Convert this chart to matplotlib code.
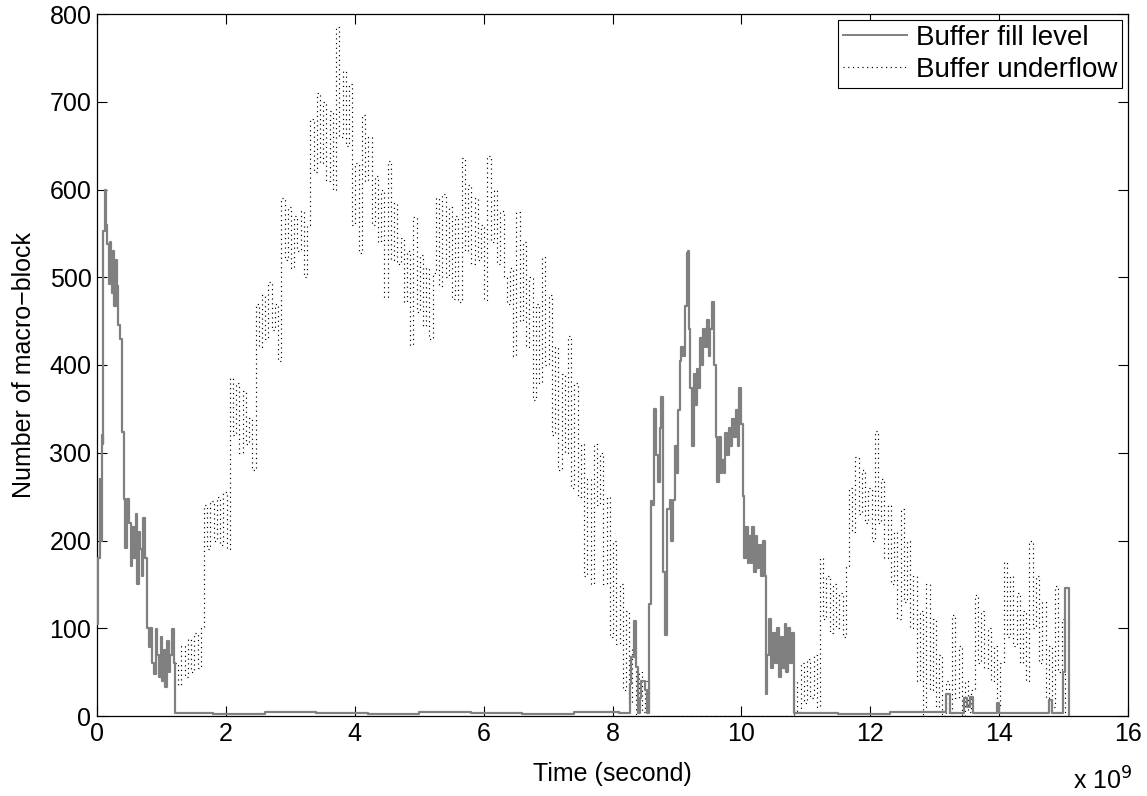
import matplotlib
matplotlib.use("Agg")
import matplotlib.pyplot as plt
from matplotlib.lines import Line2D

plt.rcParams['font.family'] = ['Liberation Sans', 'DejaVu Sans']

# ---- data (time in units of 1e9 s, values in macro-blocks) ----
fill_t = [0.00, 0.02, 0.04, 0.05, 0.07, 0.09, 0.10, 0.12, 0.14, 0.16, 0.18, 0.20, 0.21, 0.23, 0.25,
          0.27, 0.29, 0.31, 0.33, 0.36, 0.39, 0.42, 0.44, 0.47, 0.49, 0.52, 0.54, 0.57, 0.60, 0.62,
          0.65, 0.67, 0.70, 0.72, 0.75, 0.78, 0.81, 0.83, 0.86, 0.88, 0.91, 0.93, 0.96, 0.99, 1.01,
          1.04, 1.06, 1.09, 1.12, 1.14, 1.17, 1.19, 1.21,
          1.80, 2.60, 3.40, 4.20, 5.00, 5.80, 6.60, 7.40, 8.10,
          8.27, 8.29, 8.33, 8.37, 8.40, 8.42, 8.45, 8.50, 8.53, 8.56, 8.59,
          8.62, 8.65, 8.68, 8.70, 8.73, 8.76, 8.78, 8.82, 8.85, 8.89, 8.91, 8.94, 8.97, 9.00, 9.02,
          9.05, 9.07, 9.10, 9.13, 9.15, 9.17, 9.19, 9.21, 9.23, 9.26, 9.28, 9.31, 9.33, 9.36, 9.39,
          9.41, 9.44, 9.47, 9.49, 9.52, 9.54, 9.57, 9.60, 9.62, 9.65, 9.68, 9.70, 9.73, 9.75, 9.78,
          9.81, 9.83, 9.86, 9.88, 9.91, 9.94, 9.96, 9.99, 10.02, 10.04, 10.07, 10.10, 10.12, 10.15,
          10.17, 10.20, 10.23, 10.25, 10.28, 10.31, 10.33, 10.36, 10.38, 10.40, 10.43, 10.46, 10.49,
          10.52, 10.55, 10.58, 10.61, 10.64, 10.67, 10.70, 10.73, 10.76, 10.79, 10.82,
          11.50, 12.30, 13.17, 13.23, 13.46, 13.50, 13.55, 13.60, 13.97, 14.00, 14.77, 14.82,
          14.99, 15.03, 15.08]
fill_v = [105, 180, 270, 200, 320, 310, 553, 600, 560, 538, 492, 540, 510, 482, 530,
          467, 520, 490, 446, 430, 324, 247, 191, 247, 220, 171, 215, 180, 230, 150,
          210, 190, 160, 226, 180, 100, 79, 100, 60, 48, 99, 70, 45, 90, 40,
          75, 33, 85, 50, 70, 99, 60, 3,
          2, 4, 3, 2, 4, 3, 2, 4, 3,
          36, 67, 108, 56, 3, 20, 40, 30, 3, 128, 245,
          240, 350, 297, 267, 328, 364, 164, 92, 236, 246, 200, 246, 308, 277, 349,
          405, 420, 410, 467, 528, 530, 441, 374, 308, 390, 354, 395, 374, 431, 400,
          441, 420, 451, 410, 441, 472, 400, 318, 267, 318, 277, 292, 277, 323, 297,
          328, 308, 338, 318, 349, 308, 374, 333, 251, 180, 215, 174, 205, 174,
          215, 164, 205, 169, 195, 159, 200, 160, 25, 70, 110, 55, 95,
          60, 100, 45, 90, 55, 105, 50, 100, 60, 95, 3,
          2, 4, 25, 3, 20, 10, 22, 3, 15, 3, 18, 3,
          50, 146, 0]

under_t = [1.21, 1.26, 1.31, 1.36, 1.41, 1.46, 1.51, 1.56, 1.61, 1.66, 1.71, 1.76, 1.81, 1.86,
           1.91, 1.96, 2.01, 2.06, 2.11, 2.16, 2.21, 2.26, 2.31, 2.36, 2.41, 2.46, 2.51, 2.56,
           2.61, 2.66, 2.71, 2.76, 2.81, 2.86, 2.91, 2.96, 3.01, 3.06, 3.11, 3.16, 3.21, 3.26,
           3.31, 3.36, 3.41, 3.46, 3.51, 3.56, 3.61, 3.66, 3.71, 3.76, 3.81, 3.86, 3.91, 3.96,
           4.01, 4.06, 4.11, 4.16, 4.21, 4.26, 4.31, 4.36, 4.41, 4.46, 4.51, 4.56, 4.61, 4.66,
           4.71, 4.76, 4.81, 4.86, 4.91, 4.96, 5.01, 5.06, 5.11, 5.16, 5.21, 5.26, 5.31, 5.36,
           5.41, 5.46, 5.51, 5.56, 5.61, 5.66, 5.71, 5.76, 5.81, 5.86, 5.91, 5.96, 6.01, 6.06,
           6.11, 6.16, 6.21, 6.26, 6.31, 6.36, 6.41, 6.46, 6.51, 6.56, 6.61, 6.66, 6.71, 6.76,
           6.81, 6.86, 6.91, 6.96, 7.01, 7.06, 7.11, 7.16, 7.21, 7.26, 7.31, 7.36, 7.41, 7.46,
           7.51, 7.56, 7.61, 7.66, 7.71, 7.76, 7.81, 7.86, 7.91, 7.96, 8.01, 8.06, 8.11, 8.16,
           8.21, 8.26, 8.31, 8.36, 8.41, 8.46, 8.51, 8.56,
           10.82, 10.87, 10.92, 10.97, 11.02, 11.07, 11.12, 11.17, 11.22, 11.27, 11.32, 11.37,
           11.42, 11.47, 11.52, 11.57, 11.62, 11.67, 11.72, 11.77, 11.82, 11.87, 11.92, 11.97,
           12.02, 12.07, 12.12, 12.17, 12.22, 12.27, 12.32, 12.37, 12.42, 12.47, 12.52, 12.57,
           12.62, 12.67, 12.72, 12.77, 12.82, 12.87, 12.92, 12.97, 13.02, 13.07, 13.12, 13.17,
           13.22, 13.27, 13.32, 13.37, 13.42, 13.47, 13.52, 13.57, 13.62, 13.67, 13.72, 13.77,
           13.82, 13.87, 13.92, 13.97, 14.02, 14.07, 14.12, 14.17, 14.22, 14.27, 14.32, 14.37,
           14.42, 14.47, 14.52, 14.57, 14.62, 14.67, 14.72, 14.77, 14.82, 14.87, 14.92, 14.97,
           15.02]
under_v = [60, 35, 80, 45, 88, 50, 95, 55, 100, 240, 190, 245, 200, 250,
           195, 255, 190, 385, 320, 380, 300, 370, 310, 340, 280, 470, 420, 480,
           430, 495, 440, 470, 405, 590, 520, 580, 510, 570, 530, 575, 500, 560,
           680, 620, 710, 630, 700, 610, 690, 600, 785, 660, 735, 650, 720, 560,
           630, 528, 685, 610, 660, 560, 615, 540, 600, 477, 633, 520, 585, 515,
           545, 472, 530, 423, 569, 460, 525, 445, 510, 430, 505, 590, 490, 595,
           500, 580, 475, 570, 472, 636, 530, 605, 515, 590, 520, 560, 474, 638,
           540, 600, 515, 575, 500, 470, 510, 410, 574, 450, 540, 420, 500, 360,
           470, 380, 523, 400, 480, 320, 420, 280, 390, 300, 433, 260, 380, 250,
           310, 160, 270, 150, 310, 240, 300, 150, 250, 90, 200, 82, 150, 30,
           120, 15, 80, 0, 50, 5, 40, 0,
           40, 5, 60, 15, 65, 20, 70, 10, 180, 110, 160, 95,
           150, 100, 140, 90, 170, 260, 210, 295, 230, 280, 220, 260,
           200, 325, 220, 270, 180, 240, 150, 210, 110, 236, 130, 200,
           100, 160, 40, 120, 0, 150, 30, 110, 10, 70, 0, 40,
           0, 115, 20, 80, 0, 40, 5, 30, 138, 60, 120, 55,
           100, 40, 80, 10, 60, 175, 90, 160, 80, 140, 60, 120,
           40, 200, 100, 160, 60, 130, 20, 80, 10, 148, 50, 110,
           0]

x_ticks = [0, 2, 4, 6, 8, 10, 12, 14, 16]
y_ticks = [0, 100, 200, 300, 400, 500, 600, 700, 800]

FS = 18

fig = plt.figure(figsize=(11.47, 7.96), dpi=100)
ax = fig.add_axes([97/1147, 80/796, 1031/1147, 702/796])

ax.plot(under_t, under_v, color='black', linestyle=(0, (1, 3)), linewidth=0.85,
        drawstyle='steps-post', zorder=2)
ax.plot(fill_t, fill_v, color='#808080', linestyle='-', linewidth=1.6,
        drawstyle='steps-post', zorder=3)

ax.set_xlim(0, 16)
ax.set_ylim(0, 800)
ax.set_xticks(x_ticks)
ax.set_yticks(y_ticks)
ax.set_xticklabels([str(v) for v in x_ticks])
ax.set_yticklabels([str(v) for v in y_ticks])
ax.tick_params(direction='in', length=7, width=0.8, top=True, right=True,
               labelsize=FS, pad=4)
for s in ax.spines.values():
    s.set_linewidth(0.9)

ax.set_xlabel('Time (second)', fontsize=FS, labelpad=12)
ax.set_ylabel('Number of macro\u2212block', fontsize=FS, labelpad=10)
fig.text(1103/1147, 1 - 781/796, 'x 10$^{9}$', fontsize=FS, ha='center', va='center')

handles = [Line2D([], [], color='#808080', linewidth=1.4, linestyle='-'),
           Line2D([], [], color='black', linewidth=0.85, linestyle=(0, (1, 3)))]
leg = ax.legend(handles, ['Buffer fill level', 'Buffer underflow'], loc='upper right',
                fontsize=20, handlelength=2.3, handletextpad=0.3, borderaxespad=0.2,
                fancybox=False, framealpha=1, edgecolor='black', borderpad=0.2,
                labelspacing=0.2)
leg.get_frame().set_linewidth(0.8)

fig.savefig('out.png', dpi=100)
